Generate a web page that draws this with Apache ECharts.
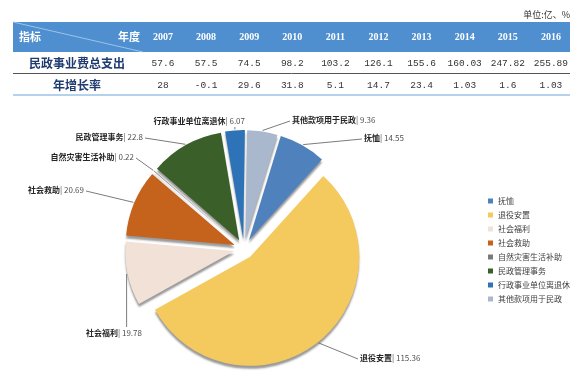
<!DOCTYPE html>
<html><head><meta charset="utf-8">
<script src="https://cdn.jsdelivr.net/npm/echarts@6/dist/echarts.min.js"></script>
<style>html,body{margin:0;padding:0;background:#fff}#c{width:584px;height:391px}</style>
</head><body><div id="c"></div>
<script>
// ---- data ----
const years = ['2007','2008','2009','2010','2011','2012','2013','2014','2015','2016'];
const totalSpend = ['57.6','57.5','74.5','98.2','103.2','126.1','155.6','160.03','247.82','255.89'];
const growthRate = ['28','-0.1','29.6','31.8','5.1','14.7','23.4','1.03','1.6','1.03'];
const rowLabels = ['民政事业费总支出','年增长率'];
const unitText = '单位:亿、%';
const pieNames = ['抚恤','退役安置','社会福利','社会救助','自然灾害生活补助','民政管理事务','行政事业单位离退休','其他款项用于民政'];
const pieValues = [14.55,115.36,19.78,20.69,0.22,22.8,6.07,9.36];

// ---- styles / layout ----
const pieColors = ['#4f81bd','#f4c95d','#f2e1d7','#c5621c','#7a7a7a','#3b5f28','#2e73b8','#a9b8cc'];
const PIE_CX = 244, PIE_CY = 249, PIE_R = 109, PIE_OFF = 10, START = 73;
// label anchor x, y, text align, where the leader line meets the text
const labelPos = [
  [364,138,'left','l'],[360,358,'left','l'],[86,333,'left','t'],[84,190,'right','r'],
  [134,157,'right','r'],[143,137,'right','r'],[245,121,'right','b'],[292,120,'left','l']
];
const tblL = 13, tblR = 570, colX0 = 163, colStep = 43.1;

const chart = echarts.init(document.getElementById('c'));
const g = [];
// table
g.push({type:'rect', shape:{x:tblL,y:22,width:tblR-tblL,height:30}, style:{fill:'#4f8fd0'}});
g.push({type:'line', shape:{x1:tblL,y1:22,x2:143,y2:52}, style:{stroke:'#9cc3ec',lineWidth:1}});
g.push({type:'text', x:19, y:37, style:{text:'指标', fill:'#fff', font:'bold 11px "Noto Sans CJK SC"', verticalAlign:'middle'}});
g.push({type:'text', x:118, y:37, style:{text:'年度', fill:'#fff', font:'bold 11px "Noto Sans CJK SC"', verticalAlign:'middle'}});
g.push({type:'text', x:tblR, y:15, style:{text:unitText, fill:'#333', font:'9px "Noto Sans CJK SC"', align:'right', verticalAlign:'middle'}});
years.forEach((y,i)=>{
  const cx = colX0 + colStep*i;
  g.push({type:'text', x:cx, y:37, style:{text:y, fill:'#fff', font:'bold 10px "Liberation Serif"', align:'center', verticalAlign:'middle'}});
  g.push({type:'text', x:cx, y:63, style:{text:totalSpend[i], fill:'#333', font:'9.5px "Liberation Mono"', align:'center', verticalAlign:'middle'}});
  g.push({type:'text', x:cx, y:85, style:{text:growthRate[i], fill:'#333', font:'9.5px "Liberation Mono"', align:'center', verticalAlign:'middle'}});
});
g.push({type:'text', x:77, y:63, style:{text:rowLabels[0], fill:'#1f3b70', font:'bold 12px "Noto Sans CJK SC"', align:'center', verticalAlign:'middle'}});
g.push({type:'text', x:77, y:85, style:{text:rowLabels[1], fill:'#1f3b70', font:'bold 12px "Noto Sans CJK SC"', align:'center', verticalAlign:'middle'}});
g.push({type:'line', shape:{x1:tblL,y1:73.5,x2:tblR,y2:73.5}, style:{stroke:'#555',lineWidth:1}});
g.push({type:'line', shape:{x1:tblL,y1:95,x2:tblR,y2:95}, style:{stroke:'#9dc3e6',lineWidth:1.5}});

// pie labels with leader lines, anchored on each slice's mid-angle (derived from values)
const total = pieValues.reduce((a,b)=>a+b,0);
let cum = 0;
pieValues.forEach((v,i)=>{
  const midDeg = START - (cum + v/2)/total*360;
  cum += v;
  const a = midDeg*Math.PI/180;
  const ex = PIE_CX + (PIE_R+PIE_OFF+1)*Math.cos(a);
  const ey = PIE_CY - (PIE_R+PIE_OFF+1)*Math.sin(a);
  const q = labelPos[i];
  let px, py;
  if (q[3]==='l') { px=q[0]-2; py=q[1]+1; }
  else if (q[3]==='r') { px=q[0]+2; py=q[1]+1; }
  else if (q[3]==='t') { px=ex; py=q[1]-6; }
  else { px=ex; py=q[1]+6; }
  g.push({type:'polyline', shape:{points:[[ex,ey],[px,py]]}, style:{stroke:'#595959',lineWidth:0.8,fill:null}, z:10});
  g.push({type:'text', x:q[0], y:q[1], z:10, style:{
    text:'{n|'+pieNames[i]+'}| '+v, fill:'#505050', font:'8px "Noto Sans CJK SC"',
    align:q[2], verticalAlign:'middle',
    rich:{n:{fontWeight:'bold', fill:'#262626', fontSize:8, fontFamily:'Noto Sans CJK SC'}}
  }});
});

chart.setOption({
  animation:false,
  color: pieColors,
  graphic: g,
  legend: {
    orient:'vertical', left:483, top:191, icon:'rect', itemWidth:5, itemHeight:5, itemGap:4,
    textStyle:{fontSize:8, color:'#404040', fontFamily:'Noto Sans CJK SC', lineHeight:10},
    data: pieNames
  },
  series: [{
    type:'pie', center:[PIE_CX,PIE_CY], radius:PIE_R, startAngle:START, clockwise:true,
    selectedMode:'multiple', selectedOffset:PIE_OFF,
    itemStyle:{shadowColor:'rgba(0,0,0,0.4)', shadowBlur:2, shadowOffsetY:3},
    label:{show:false}, labelLine:{show:false},
    data: pieNames.map((n,i)=>({name:n, value:pieValues[i], selected:true}))
  }]
});
</script></body></html>
